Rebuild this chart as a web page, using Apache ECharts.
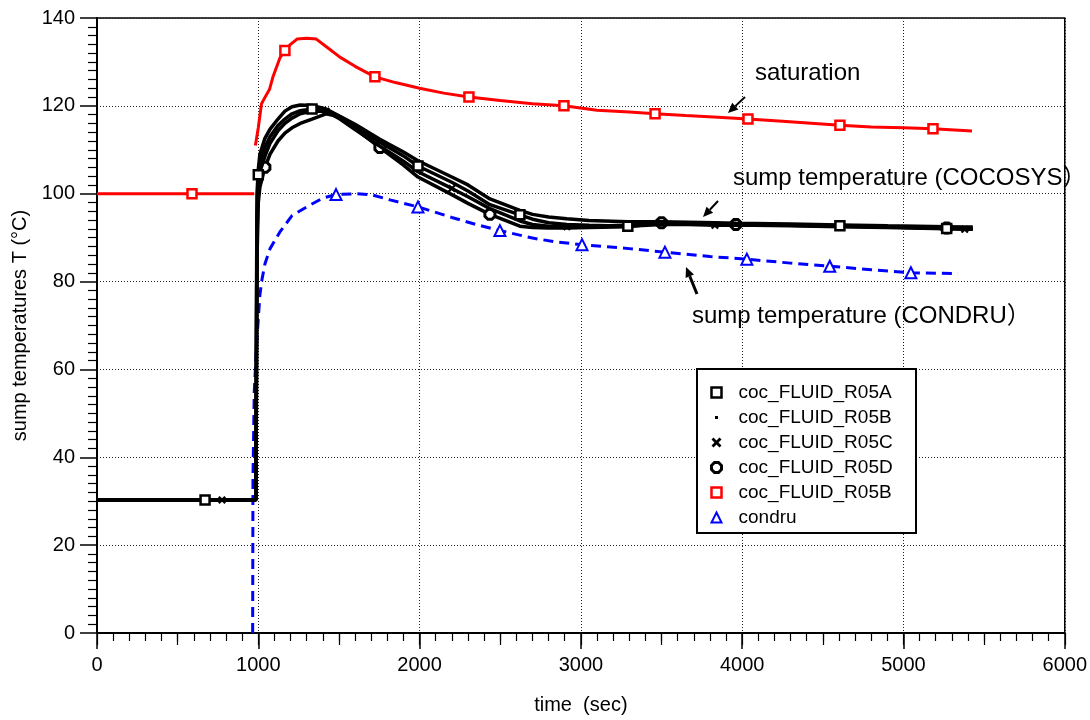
<!DOCTYPE html>
<html><head><meta charset="utf-8">
<script src="https://cdn.jsdelivr.net/npm/echarts@6/dist/echarts.min.js"></script>
<style>html,body{margin:0;padding:0;background:#fff;}#c{width:1090px;height:720px;}</style>
</head><body><div id="c"></div>
<script>
// ---- axes ----
const xTicks = [0, 1000, 2000, 3000, 4000, 5000, 6000];
const yTicks = [0, 20, 40, 60, 80, 100, 120, 140];
const xTitle = 'time  (sec)';
const yTitle = 'sump temperatures T (°C)';

// ---- COCOSYS sump temperatures (four nodes share one time grid) ----
const blackT = [0, 670, 775, 985, 988, 992, 1000, 1010, 1041, 1073, 1122, 1165, 1209, 1260, 1333, 1420, 1506, 1600, 1754, 1900, 1990, 2200, 2300, 2436, 2622, 2700, 2800, 2913, 3050, 3291, 3500, 3831, 3961, 4300, 4606, 4900, 5268, 5380, 5430];
const r05A = [30.3, 30.3, 30.3, 30.3, 60, 95, 104.3, 107, 110.5, 113, 115.5, 117, 118.2, 118.9, 119.3, 119, 117.5, 115.3, 111.7, 108.6, 106.3, 102.6, 100.6, 97.5, 95.2, 94.2, 93.4, 93, 92.8, 92.6, 93, 93, 93, 92.8, 92.7, 92.4, 92.1, 92, 92];
const r05B = [30.3, 30.3, 30.3, 30.3, 70, 100, 105.5, 109, 112.6, 114.7, 117, 118.8, 119.8, 120.2, 120.1, 119.3, 117.6, 115.8, 112.4, 109.5, 107.5, 103.8, 102, 98.8, 96.2, 95.3, 94.7, 94.3, 93.9, 93.6, 93.6, 93.4, 93.3, 93.1, 92.9, 92.7, 92.5, 92.4, 92.4];
const r05C = [30.3, 30.3, 30.3, 30.3, 55, 90, 102, 105, 108.5, 111.5, 114.3, 116, 117.2, 118.2, 118.8, 118.8, 117, 114.6, 110.8, 107.4, 105, 101.2, 99.3, 96.6, 93.8, 93, 92.6, 92.5, 92.6, 92.8, 93.3, 92.8, 92.9, 92.7, 92.5, 92.3, 92, 91.9, 91.9];
const r05D = [30.3, 30.3, 30.3, 30.3, 50, 85, 98, 101.5, 106, 109, 112, 113.8, 115, 116, 117, 118.2, 117.5, 114.8, 110.5, 106.5, 103.8, 99.8, 97.8, 95.3, 92.6, 92.3, 92.2, 92.2, 92.3, 92.5, 93.4, 93.2, 93, 92.8, 92.6, 92.4, 92.2, 92.1, 92];
const marksA = [670, 1000, 1333, 1990, 2622, 3291, 4606, 5268];
const marksB = [1506, 2300, 3050, 3961, 4900];
const marksC = [775, 1420, 2200, 2913, 3831, 5380];
const marksD = [1041, 1754, 2436, 3500, 3961, 5268];

// ---- saturation temperature (red) ----
const satT = [0, 589, 975, 978, 982, 1000, 1020, 1050, 1070, 1090, 1110, 1135, 1165, 1200, 1240, 1300, 1360, 1420, 1506, 1600, 1723, 1850, 2000, 2150, 2306, 2500, 2700, 2895, 3100, 3300, 3460, 3650, 3850, 4036, 4250, 4450, 4606, 4800, 5000, 5183, 5425];
const satV = [100, 100, 100, '-', 111, 115, 120.5, 122.5, 123.8, 126.5, 128.5, 131, 132.6, 134, 135.2, 135.4, 135.2, 133.5, 131.1, 129, 126.6, 125.3, 124, 122.9, 122, 121.2, 120.5, 120, 119, 118.6, 118.2, 117.8, 117.4, 117, 116.5, 116, 115.6, 115.2, 115, 114.8, 114.3];
const satMarks = [589, 1165, 1723, 2306, 2895, 3460, 4036, 4606, 5183];

// ---- CONDRU sump temperature (blue) ----
const condT = [965, 967, 975, 990, 1010, 1023, 1041, 1073, 1134, 1209, 1300, 1400, 1482, 1600, 1700, 1816, 1990, 2200, 2350, 2498, 2700, 2850, 3007, 3300, 3521, 3800, 4029, 4300, 4543, 4800, 5046, 5338];
const condV = [0, 35, 55, 66, 77, 80.5, 84, 87.5, 91.3, 95, 97, 99, 99.8, 100, 99.8, 98.6, 97, 94.6, 93, 91.6, 89.9, 89, 88.4, 87.5, 86.7, 85.7, 85.1, 84.2, 83.5, 82.7, 82, 81.8];
const condMarks = [1482, 1990, 2498, 3007, 3521, 4029, 4543, 5046];

const seriesNames = ['coc_FLUID_R05A', 'coc_FLUID_R05B', 'coc_FLUID_R05C', 'coc_FLUID_R05D', 'coc_FLUID_R05B ', 'condru'];
const notes = ['saturation', 'sump temperature (COCOSYS）', 'sump temperature (CONDRU）'];

const FONT = "'Liberation Sans', Arial, 'Noto Sans CJK SC', sans-serif";
const XMARK = 'path://M0,2L2,0L5,3L8,0L10,2L7,5L10,8L8,10L5,7L2,10L0,8L3,5Z';
const OCT = 'path://M3,0L7,0L10,3L10,7L7,10L3,10L0,7L0,3Z';
const DOT = 'path://M0,0L0.01,0M10,10L10.01,10M3.5,3.5L6.5,3.5L6.5,6.5L3.5,6.5Z';

function build(ts, vs, marks, sym, size) {
  return ts.map((t, i) => {
    const it = { value: [t, vs[i]] };
    if (marks.indexOf(t) >= 0) { it.symbol = sym; it.symbolSize = size; }
    else { it.symbol = 'none'; }
    return it;
  });
}

function lineSeries(name, data, color, fill, bw, dashed, z, lw) {
  return {
    name, type: 'line', data, z,
    showSymbol: true, symbol: 'none', animation: false, silent: true,
    lineStyle: { color, width: lw || 3, type: dashed ? [10, 6] : 'solid' },
    itemStyle: { color: fill, borderColor: color, borderWidth: bw },
    emphasis: { disabled: true }
  };
}

function arrow(x1, y1, x2, y2, w) {
  const dx = x2 - x1, dy = y2 - y1, L = Math.hypot(dx, dy);
  const ux = dx / L, uy = dy / L, hl = 10, hw = 4.5;
  const bx = x2 - ux * hl, by = y2 - uy * hl;
  return [
    { type: 'line', z: 30, shape: { x1, y1, x2: bx, y2: by }, style: { stroke: '#000', lineWidth: w } },
    { type: 'polygon', z: 30, shape: { points: [[x2, y2], [bx - uy * hw, by + ux * hw], [bx + uy * hw, by - ux * hw]] }, style: { fill: '#000' } }
  ];
}

const chart = echarts.init(document.getElementById('c'), null, { renderer: 'canvas' });
const axisFont = { fontFamily: FONT, fontSize: 20, color: '#000', formatter: v => String(v) };
const gridLine = { show: true, lineStyle: { color: '#222', type: [1, 2], width: 1 } };

chart.setOption({
  animation: false,
  backgroundColor: '#fff',
  grid: { left: 97, top: 18, width: 968, height: 616, show: true, borderColor: '#000', borderWidth: 1.5 },
  xAxis: [{
    type: 'value', min: xTicks[0], max: xTicks[xTicks.length - 1], interval: xTicks[1] - xTicks[0],
    name: xTitle, nameLocation: 'middle', nameGap: 62, nameTextStyle: { fontFamily: FONT, fontSize: 20, color: '#000' },
    axisLine: { lineStyle: { color: '#000', width: 2 } },
    axisTick: { length: 16, lineStyle: { color: '#000', width: 1.5 } },
    minorTick: { show: true, splitNumber: 10, length: 8, lineStyle: { color: '#000', width: 1.2 } },
    axisLabel: Object.assign({ margin: 22 }, axisFont),
    splitLine: gridLine
  }, {
    type: 'value', position: 'bottom', min: xTicks[0], max: xTicks[xTicks.length - 1], interval: (xTicks[1] - xTicks[0]) / 2,
    axisLine: { show: false }, axisLabel: { show: false }, splitLine: { show: false },
    axisTick: { length: 12, lineStyle: { color: '#000', width: 1.2 } }
  }],
  yAxis: {
    type: 'value', min: yTicks[0], max: yTicks[yTicks.length - 1], interval: yTicks[1] - yTicks[0],
    name: yTitle, nameLocation: 'middle', nameGap: 60, nameRotate: 90,
    nameTextStyle: { fontFamily: FONT, fontSize: 20, color: '#000' },
    axisLine: { lineStyle: { color: '#000', width: 2 } },
    axisTick: { length: 17, lineStyle: { color: '#000', width: 1.5 } },
    minorTick: { show: true, splitNumber: 10, length: 9, lineStyle: { color: '#000', width: 1.2 } },
    axisLabel: Object.assign({ margin: 22 }, axisFont),
    splitLine: gridLine
  },
  legend: {
    left: 705, top: 378, orient: 'vertical', z: 20, selectedMode: false,
    itemWidth: 10, itemHeight: 10, itemGap: 6, padding: 5,
    textStyle: { fontFamily: FONT, fontSize: 19, lineHeight: 19, color: '#000', padding: [0, 0, 0, 12] },
    data: [
      { name: seriesNames[0], icon: 'rect', itemStyle: { color: '#fff', borderColor: '#000', borderWidth: 2.5 } },
      { name: seriesNames[1], icon: DOT, itemStyle: { color: '#000', borderWidth: 0 } },
      { name: seriesNames[2], icon: XMARK, itemStyle: { color: '#000', borderWidth: 0 } },
      { name: seriesNames[3], icon: OCT, itemStyle: { color: '#fff', borderColor: '#000', borderWidth: 3 } },
      { name: seriesNames[4], icon: 'rect', itemStyle: { color: '#fff', borderColor: '#f00', borderWidth: 2.5 } },
      { name: seriesNames[5], icon: 'triangle', itemStyle: { color: '#fff', borderColor: '#00f', borderWidth: 2 } }
    ]
  },
  graphic: [
    { type: 'rect', z: 15, shape: { x: 697, y: 369, width: 219, height: 164 }, style: { fill: '#fff', stroke: '#000', lineWidth: 2 } },
    { type: 'text', z: 30, left: 755, top: 61, style: { text: notes[0], font: "24px " + FONT, fill: '#000' } },
    { type: 'text', z: 30, left: 733, top: 166, style: { text: notes[1], font: "24px " + FONT, fill: '#000' } },
    { type: 'text', z: 30, left: 692, top: 304, style: { text: notes[2], font: "24px " + FONT, fill: '#000' } },
    ...arrow(745, 97, 728, 113, 2),
    ...arrow(718, 201, 703, 217, 2),
    ...arrow(697, 294, 686, 267, 3)
  ],
  series: [
    lineSeries(seriesNames[4], build(satT, satV, satMarks, 'rect', 9), '#f00', '#fff', 2.5, false, 3),
    lineSeries(seriesNames[5], build(condT, condV, condMarks, 'triangle', 11), '#00f', '#fff', 2, true, 3),
    lineSeries(seriesNames[3], build(blackT, r05D, marksD, OCT, 10), '#000', '#fff', 3, false, 4, 3.5),
    lineSeries(seriesNames[2], build(blackT, r05C, marksC, XMARK, 8), '#000', '#000', 0, false, 5, 3.5),
    lineSeries(seriesNames[1], build(blackT, r05B, marksB, 'circle', 3), '#000', '#000', 0, false, 6, 3.5),
    lineSeries(seriesNames[0], build(blackT, r05A, marksA, 'rect', 9), '#000', '#fff', 2.5, false, 7, 3.5)
  ]
});
</script></body></html>
